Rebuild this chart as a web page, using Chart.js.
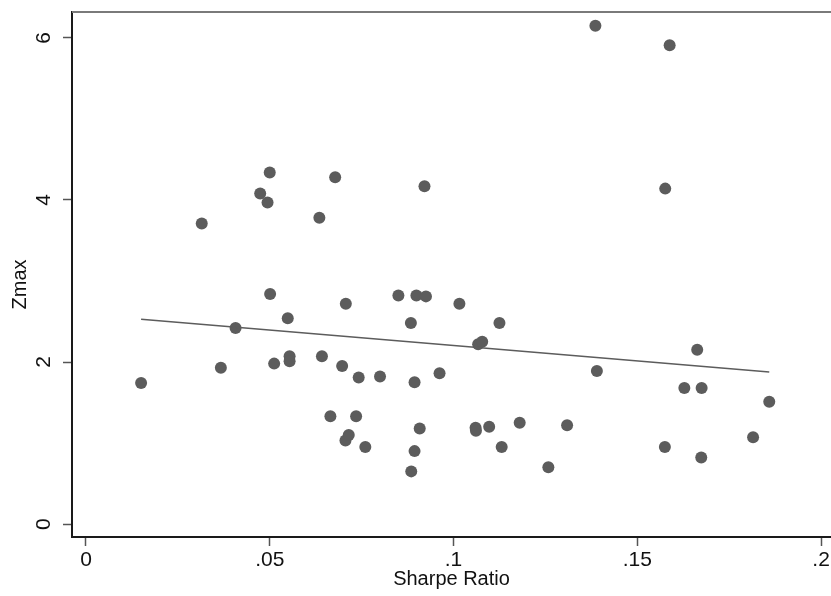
<!DOCTYPE html>
<html>
<head>
<meta charset="utf-8">
<title>Zmax vs Sharpe Ratio</title>
<script src="https://cdn.jsdelivr.net/npm/chart.js@4"></script>
<style>
  html, body { margin: 0; padding: 0; background: #fff; }
  #wrap { width: 831px; height: 596px; }
</style>
</head>
<body>
<div id="wrap"><canvas id="scatter-chart" width="831" height="596"></canvas></div>
<script>
// values
var sharpe = [0.0150, 0.0315, 0.0367, 0.0407, 0.0474, 0.0494, 0.0500, 0.0501, 0.0512, 0.0549,
    0.0554, 0.0554, 0.0635, 0.0642, 0.0665, 0.0678, 0.0697, 0.0707, 0.0706, 0.0715,
    0.0735, 0.0742, 0.0760, 0.0800, 0.0850, 0.0884, 0.0885, 0.0894, 0.0894, 0.0899,
    0.0908, 0.0921, 0.0925, 0.0962, 0.1016, 0.1060, 0.1061, 0.1067, 0.1078, 0.1097,
    0.1125, 0.1131, 0.1180, 0.1258, 0.1309, 0.1386, 0.1390, 0.1575, 0.1576, 0.1588,
    0.1628, 0.1663, 0.1674, 0.1675, 0.1815, 0.1859];
var zmax = [1.74, 3.71, 1.93, 2.42, 4.08, 3.97, 4.34, 2.84, 1.98, 2.54,
    2.07, 2.01, 3.78, 2.07, 1.33, 4.28, 1.95, 2.72, 1.03, 1.10,
    1.33, 1.81, 0.95, 1.82, 2.82, 2.48, 0.65, 1.75, 0.90, 2.82,
    1.18, 4.17, 2.81, 1.86, 2.72, 1.19, 1.15, 2.22, 2.25, 1.20,
    2.48, 0.95, 1.25, 0.70, 1.22, 6.15, 1.89, 0.95, 4.14, 5.91,
    1.68, 2.15, 0.82, 1.68, 1.07, 1.51];

// fitted line, ends
var fitX = [0.0150, 0.1859];
var fitY = [2.527, 1.877];

var xTicks = [0, 0.05, 0.1, 0.15, 0.2];
var xTickLabels = ['0', '.05', '.1', '.15', '.2'];
var yTicks = [0, 2, 4, 6];
var yTickLabels = ['0', '2', '4', '6'];

var yTitle = 'Zmax';
var xTitle = 'Sharpe Ratio';

var points = sharpe.map(function(v, i) { return { x: v, y: zmax[i] }; });
var fitPoints = fitX.map(function(v, i) { return { x: v, y: fitY[i] }; });

var font = 'Liberation Sans, Arial, Helvetica, sans-serif';

function fixedTicks(values) {
    return function(scale) {
        scale.ticks = values.map(function(v) { return { value: v }; });
    };
}

function labelFor(values, labels) {
    return function(value) {
        var i = values.indexOf(value);
        return i >= 0 ? labels[i] : '';
    };
}

// gray outline on top of the plot region, and the y title a bit below centre like Stata
var extras = {
    id: 'extras',
    afterDraw: function(chart) {
        var a = chart.chartArea, c = chart.ctx;
        c.save();
        c.strokeStyle = '#7a7a7a';
        c.lineWidth = 2;
        c.beginPath();
        c.moveTo(a.left, a.top);
        c.lineTo(a.right, a.top);
        c.stroke();

        c.translate(20, (a.top + a.bottom) / 2 + 10);
        c.rotate(-Math.PI / 2);
        c.fillStyle = '#111';
        c.font = '20px ' + font;
        c.textAlign = 'center';
        c.textBaseline = 'middle';
        c.fillText(yTitle, 0, 0);
        c.restore();
    }
};

var ctx = document.getElementById('scatter-chart').getContext('2d');

new Chart(ctx, {
    type: 'scatter',
    data: {
        datasets: [{
            label: 'Zmax',
            data: points,
            backgroundColor: '#5c5c5c',
            borderColor: '#5c5c5c',
            borderWidth: 0,
            pointRadius: 6,
            order: 2
        }, {
            label: 'Fitted values',
            type: 'line',
            data: fitPoints,
            borderColor: '#5c5c5c',
            borderWidth: 1.6,
            pointRadius: 0,
            fill: false,
            order: 1
        }]
    },
    options: {
        responsive: false,
        animation: false,
        layout: { autoPadding: false, padding: { top: 12, right: 0, left: 0, bottom: 0 } },
        plugins: {
            legend: { display: false },
            tooltip: { enabled: false }
        },
        scales: {
            x: {
                type: 'linear',
                min: -0.0038,
                max: 0.2027,
                afterBuildTicks: fixedTicks(xTicks),
                afterFit: function(scale) {
                    scale.height = 59;
                    scale.paddingLeft = 0;
                    scale.paddingRight = 0;
                },
                border: { display: true, color: '#1a1a1a', width: 2 },
                grid: {
                    drawOnChartArea: false,
                    drawTicks: true,
                    tickLength: 9,
                    tickColor: '#555',
                    tickWidth: 1.5
                },
                ticks: {
                    autoSkip: false,
                    maxRotation: 0,
                    padding: 2,
                    color: '#111',
                    font: { family: font, size: 21 },
                    callback: labelFor(xTicks, xTickLabels)
                },
                title: {
                    display: true,
                    text: xTitle,
                    color: '#111',
                    font: { family: font, size: 20 },
                    padding: { top: 0, bottom: 5 }
                }
            },
            y: {
                type: 'linear',
                min: -0.16,
                max: 6.32,
                afterBuildTicks: fixedTicks(yTicks),
                afterFit: function(scale) {
                    scale.width = 72;
                    scale.paddingTop = 0;
                    scale.paddingBottom = 0;
                },
                border: { display: true, color: '#1a1a1a', width: 2 },
                grid: {
                    drawOnChartArea: false,
                    drawTicks: true,
                    tickLength: 9,
                    tickColor: '#555',
                    tickWidth: 1.5
                },
                ticks: {
                    autoSkip: false,
                    minRotation: 90,
                    maxRotation: 90,
                    crossAlign: 'center',
                    padding: 12.5,
                    color: '#111',
                    font: { family: font, size: 21 },
                    callback: labelFor(yTicks, yTickLabels)
                },
                title: { display: false }
            }
        }
    },
    plugins: [extras]
});
</script>
</body>
</html>
